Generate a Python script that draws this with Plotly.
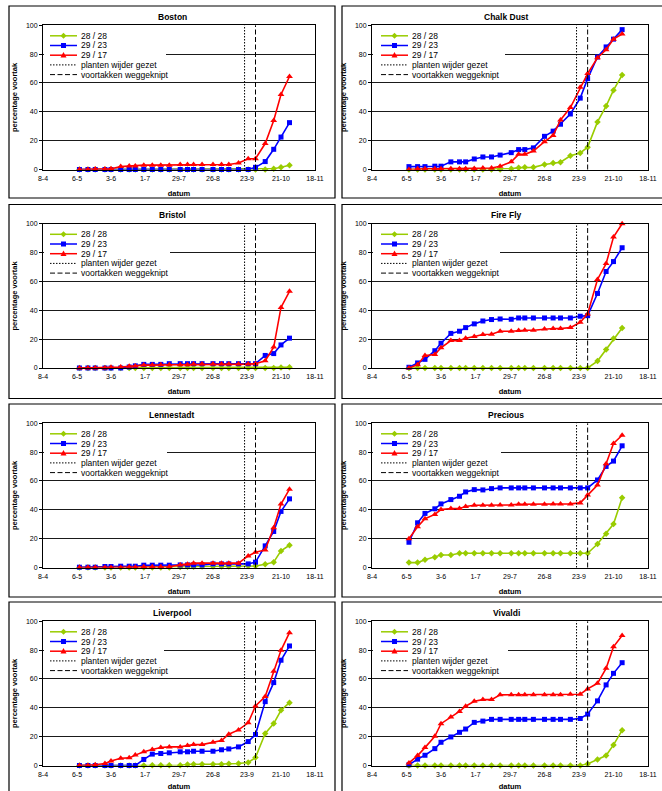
import plotly.graph_objects as go

# ---------------- data ----------------
dates = ["2005-05-08", "2005-05-15", "2005-05-21", "2005-05-29", "2005-06-03", "2005-06-11",
         "2005-06-18", "2005-06-23", "2005-06-30", "2005-07-07", "2005-07-14", "2005-07-21",
         "2005-07-30", "2005-08-05", "2005-08-10", "2005-08-17", "2005-08-26", "2005-09-02",
         "2005-09-08", "2005-09-16", "2005-09-24", "2005-09-30", "2005-10-08", "2005-10-15",
         "2005-10-21", "2005-10-28"]

tick_dates = ["2005-04-08", "2005-05-06", "2005-06-03", "2005-07-01", "2005-07-29",
              "2005-08-26", "2005-09-23", "2005-10-21", "2005-11-18"]
tick_labels = ["8-4", "6-5", "3-6", "1-7", "29-7", "26-8", "23-9", "21-10", "18-11"]

date_planten_wijder = "2005-09-21"
date_voortakken_weg = "2005-09-30"

series_names = ["28 / 28", "29 / 23", "29 / 17"]
event_names = ["planten wijder gezet", "voortakken weggeknipt"]

cultivars = ["Boston", "Chalk Dust", "Bristol", "Fire Fly",
             "Lennestadt", "Precious", "Liverpool", "Vivaldi"]

boston_2828 = [0, 0, 0, 0, 0, 0, 0, 0, 0, 0, 0, 0, 0, 0, 0, 0, 0, 0, 0, 0, 0, 0, 0, 0.5, 1.5, 3]
boston_2923 = [0, 0, 0, 0, 0, 0, 0, 0, 0, 0, 0, 0, 0, 0, 0, 0, 0, 0, 0, 0, 0, 1.5, 5.5, 14, 22.5, 32.5]
boston_2917 = [0, 0, 0.3, 0.3, 0.5, 2, 2.5, 2.5, 3, 3, 3, 3, 3.5, 3.5, 3.5, 3.5, 3.5, 3.5, 3.5, 4.5,
               7.5, 7.5, 18, 34, 52, 64.5]

chalkdust_2828 = [0, 0, 0, 0, 0, 0, 0, 0, 0, 0, 0, 0, 0.5, 1.3, 1.5, 1.5, 3.5, 4.5, 5, 9.5,
                  11.5, 15.5, 33, 44, 55, 65.5]
chalkdust_2923 = [2, 2, 2, 2.3, 2.3, 5.3, 5.3, 5.3, 7.3, 8.7, 8.7, 10, 11.7, 13.8, 13.8, 15,
                  23, 26.6, 31.4, 38.5, 49.5, 63, 78, 85, 90.4, 97]
chalkdust_2917 = [0, 0.5, 0.5, 0.5, 0.5, 0.5, 0.5, 0.5, 0.7, 1, 1, 2.3, 5.3, 10.5, 10.5, 12.8,
                  19.3, 23.6, 34.4, 43, 57, 66.5, 77.5, 83, 90.4, 94]

bristol_2828 = [0, 0, 0, 0, 0, 0, 0, 0, 0, 0, 0, 0, 0, 0, 0, 0, 0, 0, 0, 0, 0, 0, 0, 0, 0.3, 0.5]
bristol_2923 = [0, 0, 0, 0, 0, 0, 0.7, 1.5, 2.5, 2.5, 2.5, 3, 3, 3, 3, 3, 3, 3, 3, 3, 3, 3,
                8.7, 10, 16, 20.7]
bristol_2917 = [0, 0, 0, 0, 0.5, 0.7, 1.2, 1.4, 2, 2, 2.3, 2.3, 2.3, 2.3, 2.7, 2.7, 2.7, 2.7,
                2.7, 2.7, 2.7, 3, 5, 14.5, 42, 53.2]

firefly_2828 = [0, 0, 0, 0, 0, 0, 0, 0, 0, 0, 0, 0, 0, 0, 0, 0, 0, 0, 0, 0, 0, 0, 4.8, 12.9, 20.5, 27.8]
firefly_2923 = [0.5, 3.5, 6, 12, 17.2, 24, 25.5, 28, 30.6, 32.6, 33.6, 34, 33.8, 34.7, 34.7, 34.7,
                34.7, 34.7, 34.7, 34.7, 35.9, 36.3, 51.7, 66.9, 73.8, 83.4]
firefly_2917 = [0, 2.3, 8.7, 9.4, 14, 19, 19, 20.7, 21.8, 23.2, 23.4, 25.5, 25.5, 26, 26.2, 26.2,
                27.1, 27.4, 27.4, 28, 31.7, 37.5, 61.4, 72.4, 90.8, 100]

lennestadt_2828 = [0, 0, 0, 0, 0, 0, 0, 0, 0, 0, 0, 0, 0.3, 0.5, 0.5, 0.7, 0.7, 0.7, 0.7, 0.8,
                   1, 1, 2.3, 3.7, 11.5, 15.4]
lennestadt_2923 = [0.2, 0.2, 0.2, 0.7, 0.7, 0.9, 0.9, 0.9, 1.6, 1.6, 1.6, 1.6, 1.8, 1.8, 1.8, 1.8,
                   2.5, 2.5, 2.5, 2.5, 2.5, 3.7, 15, 25, 38.9, 47.6]
lennestadt_2917 = [0, 0, 0, 0, 0, 0, 0.2, 0.2, 0.5, 0.5, 0.5, 0.5, 1.8, 2.3, 3, 3, 3, 3, 3, 3,
                   8, 10.6, 12.2, 27.6, 44, 54.3]

precious_2828 = [3.4, 3.4, 5.3, 7.1, 8.7, 8.7, 9.9, 9.9, 9.9, 9.9, 9.9, 9.9, 9.9, 9.9, 9.9, 9.9,
                 9.9, 9.9, 9.9, 9.9, 9.9, 9.9, 16.3, 23.4, 30.1, 48.3]
precious_2923 = [17.5, 31, 37.5, 40.7, 44.1, 47.1, 49.4, 52.4, 54, 53.8, 54.7, 55.2, 55.2, 55.2,
                 55.2, 55.2, 55.2, 55.2, 55.2, 55.2, 55.2, 55.2, 60.7, 70.1, 73.8, 84.4]
precious_2917 = [20, 28.3, 33.8, 36.8, 40.2, 40.9, 40.9, 42.3, 43.2, 43.2, 43.2, 43.4, 43.4, 43.9,
                 43.9, 43.9, 43.9, 44.1, 44.1, 44.1, 44.8, 50.3, 57.2, 72, 86, 91.7]

liverpool_2828 = [0, 0, 0, 0, 0, 0, 0, 0, 0, 0.2, 0.2, 0.2, 0.2, 0.7, 0.9, 0.9, 0.9, 0.9, 1.2, 1.4,
                  2.1, 5.5, 22.2, 29.1, 38.3, 43.6]
liverpool_2923 = [0, 0, 0, 0, 0, 0, 0, 0, 4.2, 7.9, 8.3, 8.8, 9.5, 9.5, 9.9, 9.9, 9.9, 10.9, 11.5,
                  12.9, 16.6, 21.5, 44.3, 57.5, 73, 82.9]
liverpool_2917 = [0, 0, 0.5, 1.4, 3.2, 5, 5.3, 7.2, 9.5, 11.1, 12.5, 12.9, 12.9, 13.9, 14.5, 14.5,
                  16.2, 17.3, 21.7, 24.7, 29.6, 41.3, 47.8, 65.4, 79.9, 92.1]

vivaldi_2828 = [0, 0, 0, 0, 0, 0, 0, 0, 0, 0, 0, 0, 0, 0, 0, 0, 0, 0, 0, 0, 0, 1.1, 4.1, 6.9, 14.3, 24.4]
vivaldi_2923 = [0.5, 4.4, 7.1, 11.7, 16.1, 19.8, 23, 25.3, 29.9, 30.8, 32, 32, 32, 32, 32, 32, 32,
                32, 32, 32, 32.6, 35.6, 44.8, 55.9, 63.9, 71.3]
vivaldi_2917 = [1.8, 6.9, 12.4, 20.2, 29, 33.6, 37.5, 41.1, 44.6, 45.7, 45.7, 49, 49, 49, 49, 49,
                49, 49, 49, 49.4, 49.4, 53.1, 57, 67.4, 82.3, 90.1]

panel_series = [
    (boston_2828, boston_2923, boston_2917),
    (chalkdust_2828, chalkdust_2923, chalkdust_2917),
    (bristol_2828, bristol_2923, bristol_2917),
    (firefly_2828, firefly_2923, firefly_2917),
    (lennestadt_2828, lennestadt_2923, lennestadt_2917),
    (precious_2828, precious_2923, precious_2917),
    (liverpool_2828, liverpool_2923, liverpool_2917),
    (vivaldi_2828, vivaldi_2923, vivaldi_2917),
]

# ---------------- styling / layout ----------------
W, H = 662, 791
FONT = "Liberation Sans, Arial, sans-serif"
colors = ["#99CC00", "#0000FF", "#FF0000"]
symbols = ["diamond", "square", "triangle-up"]
msizes = [5, 5, 6]

col_box = [(9, 335), (342, 670)]
col_plot = [(43, 315), (372, 648)]
row_box = [(6, 198), (204.5, 398.5), (404, 597), (602, 797)]
legend_widths = [123, 133, 127, 128, 124, 129, 121, 136]
legend_offsets = [(7, 34, 36), (9, 36, 38)]  # line start, line end, text start (px from plot left)


def fx(px):
    return px / W


def fy(py):
    return 1 - py / H


fig = go.Figure()
layout = dict(
    width=W, height=H, margin=dict(l=0, r=0, t=0, b=0, autoexpand=False),
    paper_bgcolor="white", plot_bgcolor="white", showlegend=False,
    font=dict(family=FONT, color="black"),
)
shapes = []
annotations = []

for i, name in enumerate(cultivars):
    r, c = divmod(i, 2)
    bx0, bx1 = col_box[c]
    by0, by1 = row_box[r]
    pl, pr = col_plot[c]
    pt, pb = by0 + 19.3, by0 + 163.5
    n = i + 1
    xa = "xaxis" if n == 1 else f"xaxis{n}"
    ya = "yaxis" if n == 1 else f"yaxis{n}"
    xr = "x" if n == 1 else f"x{n}"
    yr = "y" if n == 1 else f"y{n}"

    layout[xa] = dict(
        domain=[fx(pl), fx(pr)], anchor=yr, type="date", automargin=False,
        range=[tick_dates[0], tick_dates[-1]],
        tickmode="array", tickvals=tick_dates, ticktext=tick_labels,
        showgrid=False, zeroline=False, showline=True, linecolor="black", linewidth=1,
        mirror=True, ticks="", ticklabelstandoff=2,
        tickfont=dict(size=7, family=FONT, color="black"),
        title=dict(text="datum", font=dict(size=7.5, family=FONT, color="black", weight="bold"),
                   standoff=9),
    )
    layout[ya] = dict(
        domain=[fy(pb), fy(pt)], anchor=xr, range=[0, 100], dtick=20, automargin=False,
        showgrid=True, gridcolor="#1a1a1a", gridwidth=1, zeroline=False,
        showline=True, linecolor="black", linewidth=1, mirror=True,
        ticks="outside", ticklen=3, tickcolor="black",
        tickfont=dict(size=7, family=FONT, color="black"),
        title=dict(text="percentage voortak",
                   font=dict(size=7.5, family=FONT, color="black", weight="bold"), standoff=7),
    )

    for k, vals in enumerate(panel_series[i]):
        fig.add_trace(go.Scatter(
            x=dates, y=vals, xaxis=xr, yaxis=yr, mode="lines+markers",
            name=series_names[k], cliponaxis=False,
            line=dict(color=colors[k], width=1.6),
            marker=dict(symbol=symbols[k], size=msizes[k], color=colors[k],
                        line=dict(width=0)),
            hoverinfo="skip",
        ))

    # event lines
    for d, dash in ((date_planten_wijder, "1.5px,1.5px"), (date_voortakken_weg, "5px,2.5px")):
        shapes.append(dict(type="line", xref=xr, yref=f"{yr} domain", x0=d, x1=d, y0=0, y1=1,
                           line=dict(color="black", width=1, dash=dash), layer="above"))

    # panel box
    shapes.append(dict(type="rect", xref="paper", yref="paper",
                       x0=fx(bx0), x1=fx(bx1), y0=fy(by1), y1=fy(by0),
                       line=dict(color="black", width=1.2), fillcolor="rgba(0,0,0,0)",
                       layer="above"))

    # title
    annotations.append(dict(text=name, xref="paper", yref="paper",
                            x=fx((bx0 + bx1) / 2), y=fy(by0 + 11), xanchor="center",
                            yanchor="middle", showarrow=False,
                            font=dict(size=8.5, family=FONT, color="black", weight="bold")))

    # legend (drawn manually to match compact Excel legend)
    lw = legend_widths[i]
    shapes.append(dict(type="rect", xref="paper", yref="paper",
                       x0=fx(pl + 1), x1=fx(pl + lw), y0=fy(pt + 55), y1=fy(pt + 4),
                       line=dict(width=0), fillcolor="white", layer="above"))
    l0, l1, t0 = legend_offsets[c]
    labels = series_names + event_names
    for k, lab in enumerate(labels):
        yy = pt + 10.5 + 9.7 * k
        if k < 3:
            shapes.append(dict(type="line", xref="paper", yref="paper",
                               x0=fx(pl + l0), x1=fx(pl + l1), y0=fy(yy), y1=fy(yy),
                               line=dict(color=colors[k], width=1.5), layer="above"))
            cx = pl + (l0 + l1) / 2
            if k == 0:
                pts = [(cx, yy - 3), (cx + 3, yy), (cx, yy + 3), (cx - 3, yy)]
            elif k == 1:
                pts = [(cx - 2.5, yy - 2.5), (cx + 2.5, yy - 2.5), (cx + 2.5, yy + 2.5),
                       (cx - 2.5, yy + 2.5)]
            else:
                pts = [(cx, yy - 3.3), (cx + 3, yy + 2.2), (cx - 3, yy + 2.2)]
            path = "M " + " L ".join(f"{fx(a):.5f},{fy(b):.5f}" for a, b in pts) + " Z"
            shapes.append(dict(type="path", xref="paper", yref="paper", path=path,
                               fillcolor=colors[k], line=dict(width=0), layer="above"))
        else:
            dash = "1.5px,1.5px" if k == 3 else "5px,2.5px"
            shapes.append(dict(type="line", xref="paper", yref="paper",
                               x0=fx(pl + l0), x1=fx(pl + l1), y0=fy(yy), y1=fy(yy),
                               line=dict(color="black", width=1, dash=dash), layer="above"))
        annotations.append(dict(text=lab, xref="paper", yref="paper", x=fx(pl + t0), y=fy(yy),
                                xanchor="left", yanchor="middle", showarrow=False,
                                font=dict(size=8.5, family=FONT, color="black")))

layout["shapes"] = shapes
layout["annotations"] = annotations
fig.update_layout(**layout)
fig.write_html("out.html", config={"displayModeBar": False},
               post_script="document.body.style.margin='0px';document.body.style.overflow='hidden';")
